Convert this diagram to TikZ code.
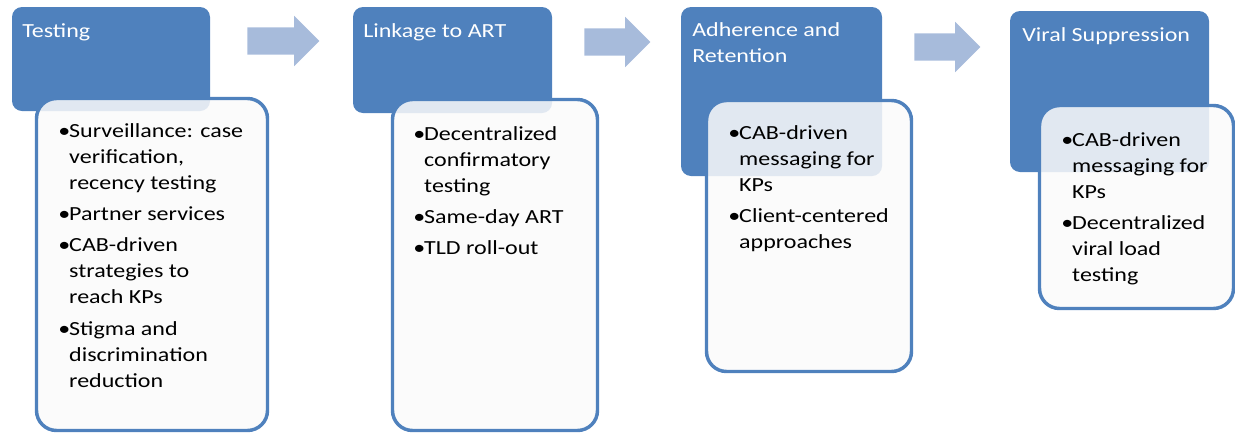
\documentclass[tikz,border=0pt]{standalone}
\usepackage{fontspec}
\setmainfont{Carlito}[FakeStretch=1.2]
\usetikzlibrary{shapes.arrows, calc}

\definecolor{stageblue}{RGB}{79,129,189}
\definecolor{arrowblue}{RGB}{167,187,219}

% bullet list and title text
\newcommand{\pitem}[1]{\par\hangindent=8.2pt\hangafter=1\noindent\makebox[8.2pt][l]{\textbullet}#1}
\newcommand{\plist}[1]{\parbox[t]{170pt}{\fontsize{15}{19.5}\selectfont\raggedright\parskip=4pt #1}}

\tikzset{
  stage/.style={fill=stageblue, rounded corners=7.5pt, anchor=north west, inner sep=0pt, outer sep=0pt},
  stagetitle/.style={anchor=base west, inner sep=0pt, text=white},
  detail/.style={draw=stageblue, line width=2.6pt, fill=black!2, fill opacity=0.86, rounded corners=15pt, anchor=north west, inner sep=0pt, outer sep=0pt},
  detailtext/.style={anchor=base west, inner sep=0pt},
  flowarrow/.style={single arrow, fill=arrowblue, anchor=tail, inner xsep=0pt, inner ysep=10.1pt, single arrow head extend=8.6pt, minimum height=49.5pt}
}

\begin{document}
\begin{tikzpicture}[x=0.75pt, y=-0.75pt]
  \useasboundingbox (0,0) rectangle (1235,433);

  % Stage boxes
  \node[stage, minimum width=148.5pt, minimum height=78pt] (testing) at (12,7) {};
  \node[stage, minimum width=149.25pt, minimum height=79.5pt] (linkage) at (353,7) {};
  \node[stage, minimum width=150.75pt, minimum height=126.75pt] (adherence) at (681,7) {};
  \node[stage, minimum width=149.25pt, minimum height=120.75pt] (viral) at (1010,11) {};

  \node[stagetitle] (testingttl) at (22,37) {\plist{Testing}};
  \node[stagetitle] (linkagettl) at (363,37) {\plist{Linkage to ART}};
  \node[stagetitle] (adherencettl) at (692,36) {\plist{Adherence and\newline Retention}};
  \node[stagetitle] (viralttl) at (1022,41) {\plist{Viral Suppression}};

  % Detail boxes
  \node[detail, minimum width=173.25pt, minimum height=249pt] (testingbox) at (36.5,98.5) {};
  \node[detail, minimum width=153.75pt, minimum height=248.25pt] (linkagebox) at (392.5,99.5) {};
  \node[detail, minimum width=153.75pt, minimum height=203.25pt] (adherencebox) at (706.5,100.5) {};
  \node[detail, minimum width=145.5pt, minimum height=152.25pt] (viralbox) at (1039.5,105.5) {};

  \node[detailtext] (testingitems) at (58,137) {\plist{%
    \pitem{Surveillance: case\newline verification,\newline recency testing}
    \pitem{Partner services}
    \pitem{CAB-driven\newline strategies to\newline reach KPs}
    \pitem{Stigma and\newline discrimination\newline reduction}}};
  \node[detailtext] (linkageitems) at (413,140) {\plist{%
    \pitem{Decentralized\newline confirmatory\newline testing}
    \pitem{Same-day ART}
    \pitem{TLD roll-out}}};
  \node[detailtext] (adherenceitems) at (728,139) {\plist{%
    \pitem{CAB-driven\newline messaging for\newline KPs}
    \pitem{Client-centered\newline approaches}}};
  \node[detailtext] (viralitems) at (1061,146) {\plist{%
    \pitem{CAB-driven\newline messaging for\newline KPs}
    \pitem{Decentralized\newline viral load\newline testing}}};

  % Arrows between stages
  \node[flowarrow, minimum height=54pt] (arrowa) at (247,41) {};
  \node[flowarrow] (arrowb) at (584,42) {};
  \node[flowarrow] (arrowc) at (914,47) {};
\end{tikzpicture}
\end{document}
